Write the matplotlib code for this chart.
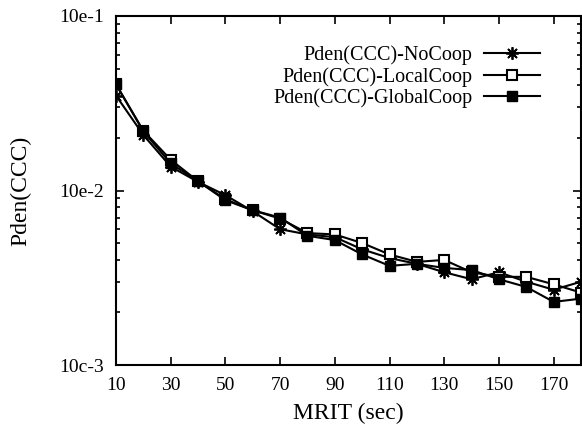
import matplotlib
matplotlib.use("Agg")
import matplotlib.pyplot as plt
from matplotlib.ticker import LogLocator, NullFormatter, FixedLocator, FixedFormatter

plt.rcParams["font.family"] = ["Liberation Serif", "DejaVu Serif"]

mrit = [10, 20, 30, 40, 50, 60, 70, 80, 90, 100, 110, 120, 130, 140, 150, 160, 170, 180]
no_coop = [0.0350, 0.0208, 0.0137, 0.0112, 0.0094, 0.0076, 0.0060, 0.0056, 0.0054,
           0.0046, 0.0041, 0.0038, 0.0034, 0.0031, 0.0034, 0.0030, 0.0027, 0.0030]
local_coop = [0.0405, 0.0220, 0.0150, 0.0113, 0.0089, 0.0077, 0.0069, 0.0057, 0.0056,
              0.0050, 0.0043, 0.0039, 0.0040, 0.0034, 0.0032, 0.0032, 0.0029, 0.0026]
global_coop = [0.0407, 0.0218, 0.0143, 0.0113, 0.0088, 0.0077, 0.0070, 0.0055, 0.0052,
               0.0043, 0.0037, 0.0038, 0.0036, 0.0035, 0.0031, 0.0028, 0.0023, 0.0024]

x_ticks = [10, 30, 50, 70, 90, 110, 130, 150, 170]
y_ticks = [1e-1, 1e-2, 1e-3]
y_tick_labels = ["10e-1", "10e-2", "10c-3"]

fig = plt.figure(figsize=(5.82, 4.30), dpi=100)
ax = fig.add_axes([116 / 582, 1 - 365 / 430, 465 / 582, 349 / 430])

ax.plot(mrit, no_coop, color="black", lw=1.5, marker=(8, 2, 0), ms=9, mew=1.3,
        label="Pden(CCC)-NoCoop")
ax.plot(mrit, local_coop, color="black", lw=1.5, marker="s", ms=6.5, mfc="white", mew=1.5,
        label="Pden(CCC)-LocalCoop")
ax.plot(mrit, global_coop, color="black", lw=1.5, marker="s", ms=6.5, mfc="black",
        label="Pden(CCC)-GlobalCoop")

ax.set_yscale("log")
ax.set_xlim(10, 180)
ax.set_ylim(1e-3, 1e-1)
ax.xaxis.set_major_locator(FixedLocator(x_ticks))
ax.yaxis.set_major_locator(FixedLocator(y_ticks))
ax.yaxis.set_major_formatter(FixedFormatter(y_tick_labels))
ax.yaxis.set_minor_locator(LogLocator(base=10, subs=range(2, 10)))
ax.yaxis.set_minor_formatter(NullFormatter())

ax.tick_params(which="both", direction="in", top=True, right=True, width=1.2, labelsize=14)
ax.tick_params(which="major", length=6, pad=9)
ax.tick_params(which="minor", length=3)
for s in ax.spines.values():
    s.set_linewidth(1.5)

ax.set_xlabel("MRIT (sec)", fontsize=17, labelpad=6)
ax.set_ylabel("Pden(CCC)", fontsize=17, labelpad=20)

ax.legend(loc="upper right", bbox_to_anchor=(0.912, 0.915), frameon=False, fontsize=14.5,
          markerfirst=False, handlelength=2.8, handletextpad=0.55, labelspacing=0.08,
          borderpad=0, borderaxespad=0)

fig.savefig("out.png", dpi=100)
